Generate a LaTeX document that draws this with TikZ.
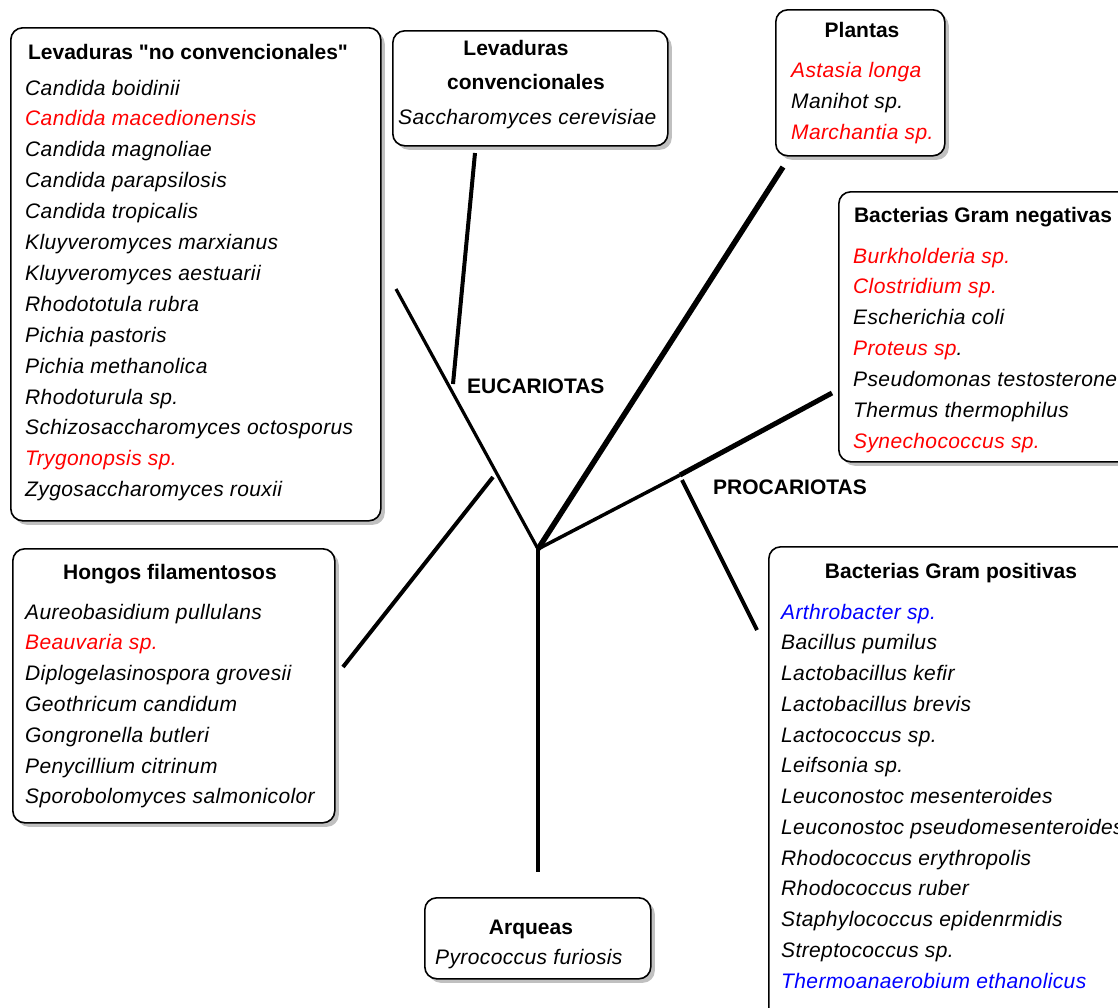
\documentclass[tikz,border=0pt]{standalone}
\usepackage{fontspec}
\setmainfont{Liberation Sans}
\newfontfamily\plainsans{Liberation Sans}
\usetikzlibrary{shadows}
\definecolor{shadowgray}{RGB}{192,192,192}
\definecolor{txtblue}{RGB}{0,0,255}
\definecolor{txtred}{RGB}{255,0,0}
\tikzset{
  x=1pt, y=-1pt,
  box/.style={draw=black, line width=1.6pt, rounded corners=12pt, fill=white,
    anchor=north west, inner sep=0pt,
    drop shadow={shadow xshift=4pt, shadow yshift=-4pt, fill=shadowgray, opacity=1}},
  itm/.style={anchor=base west, inner sep=0pt,
    font=\fontsize{21}{25}\selectfont\itshape\addfontfeature{LetterSpace=1.8}},
  hd/.style={anchor=base, inner sep=0pt, font=\fontsize{21}{25}\selectfont\plainsans\bfseries},
  lbl/.style={anchor=base west, inner sep=0pt, font=\fontsize{21}{25}\selectfont\bfseries},
  branch/.style={line width=#1, line cap=butt, draw=black},
}
\newcommand\speclist[5]{%
  \foreach[count=\i] \c/\t in {#5}{%
    \node[itm, text=\c] (#1\i) at (#2,{#3+7+(\i-1)*#4}) {\t};}}
\begin{document}
\begin{tikzpicture}
\path[use as bounding box, fill=white] (0,0) rectangle (1118,1007);
\clip (0,0) rectangle (1118,1007);

% ---------------- tree ----------------
\coordinate (root) at (538,549);
\coordinate (eucTop) at (396,289);
\coordinate (levFoot) at (453,384);
\coordinate (levTop) at (475,153);
\coordinate (hongFoot) at (493,477);
\coordinate (hongEnd) at (343,667);
\coordinate (plantEnd) at (783,167);
\coordinate (proKnot) at (680,475);
\coordinate (negEnd) at (832,393);
\coordinate (posFoot) at (682,480);
\coordinate (posEnd) at (757,630);
\coordinate (trunkEnd) at (538,872);

\draw[branch=3.2pt] (root) -- (eucTop);
\draw[branch=4pt] (levFoot) -- (levTop);
\draw[branch=4pt] (hongFoot) -- (hongEnd);
\draw[branch=5.5pt] (root) -- (plantEnd);
\draw[branch=3.5pt] (root) -- (proKnot);
\draw[branch=5pt] (proKnot) -- (negEnd);
\draw[branch=4pt] (posFoot) -- (posEnd);
\draw[branch=4.5pt] (root) -- (trunkEnd);

\node[lbl] (euc) at (467,393.5) {EUCARIOTAS};
\node[lbl] (pro) at (713,494.5) {PROCARIOTAS};

% ---------------- boxes ----------------
\node[box, minimum width=370, minimum height=493] (b1) at (10,27) {};
\node[box, minimum width=275, minimum height=115] (b2) at (392,30) {};
\node[box, minimum width=169, minimum height=146] (b3) at (775,9) {};
\node[box, minimum width=310, minimum height=270] (b4) at (838,191) {};
\node[box, minimum width=322, minimum height=274] (b5) at (12,548) {};
\node[box, minimum width=380, minimum height=480] (b6) at (768,546) {};
\node[box, minimum width=226, minimum height=81] (b7) at (424,897) {};

% ---------------- box 1 ----------------
\node[hd] (h1) at (188,59.5) {Levaduras "no convencionales"};
\speclist{l}{25}{88}{30.9}{black/Candida boidinii, txtred/Candida macedionensis,
  black/Candida magnoliae, black/Candida parapsilosis, black/Candida tropicalis,
  black/Kluyveromyces marxianus, black/Kluyveromyces aestuarii, black/Rhodototula rubra,
  black/Pichia pastoris, black/Pichia methanolica, black/Rhodoturula sp.,
  black/Schizosaccharomyces octosporus, txtred/Trygonopsis sp., black/Zygosaccharomyces rouxii}

% ---------------- box 2 ----------------
\node[hd] (h2a) at (516,55) {Levaduras};
\node[hd] (h2b) at (526,89.5) {convencionales};
\node[itm] (s1) at (398,124.5) {Saccharomyces cerevisiae};

% ---------------- box 3 ----------------
\node[hd] (h3) at (862,37) {Plantas};
\speclist{p}{791}{70}{31.3}{txtred/Astasia longa, black/Manihot sp., txtred/Marchantia sp.}

% ---------------- box 4 ----------------
\node[hd] (h4) at (983,222.5) {Bacterias Gram negativas};
\speclist{n}{853}{256}{30.9}{txtred/Burkholderia sp., txtred/Clostridium sp.,
  black/Escherichia coli, txtred/{Proteus sp\textcolor{black}{.}},
  black/Pseudomonas testosterone, black/Thermus thermophilus, txtred/Synechococcus sp.}

% ---------------- box 5 ----------------
\node[hd] (h5) at (170,579.5) {Hongos filamentosos};
\speclist{f}{25}{612}{30.8}{black/Aureobasidium pullulans, txtred/Beauvaria sp.,
  black/Diplogelasinospora grovesii, black/Geothricum candidum,
  black/Gongronella butleri, black/Penycillium citrinum, black/Sporobolomyces salmonicolor}

% ---------------- box 6 ----------------
\node[hd] (h6) at (951,578) {Bacterias Gram positivas};
\speclist{g}{781}{612}{30.75}{txtblue/Arthrobacter sp., black/Bacillus pumilus,
  black/Lactobacillus kefir, black/Lactobacillus brevis, black/Lactococcus sp.,
  black/Leifsonia sp., black/Leuconostoc mesenteroides,
  black/Leuconostoc pseudomesenteroides, black/Rhodococcus erythropolis,
  black/Rhodococcus ruber, black/Staphylococcus epidenrmidis,
  black/Streptococcus sp., txtblue/Thermoanaerobium ethanolicus}

% ---------------- box 7 ----------------
\node[hd] (h7) at (531,934) {Arqueas};
\node[itm] (a1) at (435,964.5) {Pyrococcus furiosis};
\end{tikzpicture}
\end{document}
